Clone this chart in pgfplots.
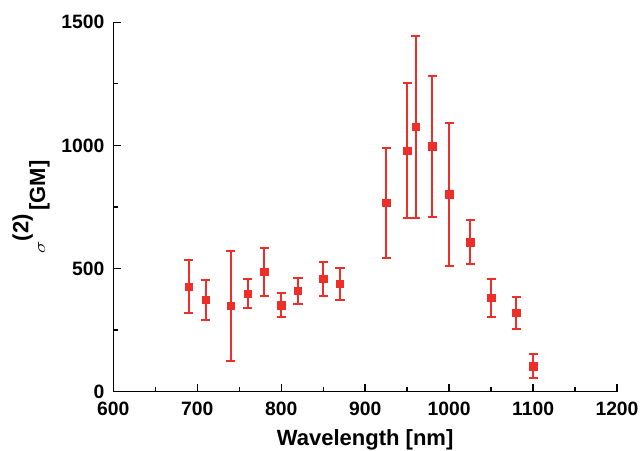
\documentclass[border=0pt]{standalone}
\usepackage{fontspec}
\setmainfont{Liberation Sans}
\usepackage{pgfplots}
\pgfplotsset{compat=1.18}
\definecolor{ptred}{RGB}{238,46,40}
\begin{document}
\begin{tikzpicture}
\begin{axis}[
    name=ax,
    scale only axis,
    width=377.8pt, height=277pt,
    xmin=600, xmax=1200, ymin=0, ymax=1500,
    axis lines=left,
    axis line style={-, line width=1pt},
    xtick={600,700,...,1200},
    ytick={0,500,1000,1500},
    minor x tick num=1,
    minor y tick num=1,
    tick align=inside,
    major tick length=5.5pt,
    minor tick length=3.75pt,
    tick style={black, line width=1pt},
    /pgf/number format/1000 sep={},
    /pgf/number format/assume math mode=true,
    tick label style={font=\fontsize{14.5}{17}\selectfont\bfseries, inner sep=0pt},
    xticklabel style={yshift=-7.5pt},
    yticklabel style={xshift=-6.5pt},
    xlabel={Wavelength [nm]},
    ylabel={\scalebox{1.3}[1]{\fontsize{12}{14}\selectfont$\sigma$}\raisebox{12.5pt}{(2)}\,[GM]},
    label style={font=\fontsize{16.5}{19}\selectfont\bfseries, inner sep=0pt},
    xlabel style={at={([yshift=-28.5pt]rel axis cs:0.5,0)}, anchor=north},
    ylabel style={at={([xshift=-47.5pt]rel axis cs:0,0.5)}, anchor=south, rotate=0},
    clip=false,
]
\addplot+[
    only marks,
    mark=square*,
    mark size=2.8pt,
    color=ptred,
    mark options={fill=ptred, draw=ptred},
    error bars/.cd,
        y dir=both, y explicit,
        error mark options={rotate=90, mark size=3.4pt, line width=1.5pt, ptred},
        error bar style={line width=1.5pt, ptred},
] table[x=x, y=y, y error=e] {
x     y     e
690   426   107
710   372   83
740   348   222
760   397   59
780   486   98
800   351   49
820   409   52
850   458   68
870   437   64
925   766   225
950   979   273
960   1075  368
980   996   287
1000  801   289
1025  606   89
1050  380   77
1080  319   65
1100  103   49
};
\end{axis}
\pgfresetboundingbox
\path ([xshift=-85pt,yshift=-44.5pt]ax.south west) rectangle ([xshift=17.25pt,yshift=16.7pt]ax.north east);
\end{tikzpicture}
\end{document}
